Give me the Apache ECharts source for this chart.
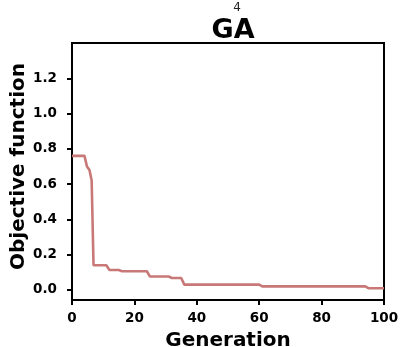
<!DOCTYPE html>
<html><head><meta charset="utf-8">
<script src="https://cdn.jsdelivr.net/npm/echarts@6/dist/echarts.min.js"></script>
<style>html,body{margin:0;padding:0;background:#fff}#c{width:402px;height:347px}</style>
</head><body><div id="c"></div>
<script>
var titleText = 'GA';
var superText = '4';
var xName = 'Generation';
var yName = 'Objective function';
var xTicks = [0, 20, 40, 60, 80, 100];
var yTicks = [0, 0.2, 0.4, 0.6, 0.8, 1.0, 1.2];
var generations = [0, 4, 4.8, 5.6, 6.3, 6.9, 11, 12, 15, 16, 24, 25, 31, 32, 35, 36, 60, 61, 94, 95, 100];
var objective   = [0.76, 0.76, 0.70, 0.68, 0.62, 0.14, 0.14, 0.113, 0.113, 0.106, 0.106, 0.076, 0.076, 0.068, 0.068, 0.03, 0.03, 0.02, 0.02, 0.01, 0.01];

var data = generations.map(function (g, i) { return [g, objective[i]]; });
var font = 'DejaVu Sans';
var chart = echarts.init(document.getElementById('c'));
chart.setOption({
  animation: false,
  backgroundColor: '#fff',
  title: [
    { text: titleText, left: 228, top: 12, textAlign: 'center',
      textStyle: { fontFamily: font, fontWeight: 'bold', fontSize: 27, color: '#000' } },
    { text: superText, left: 232, top: -3, textAlign: 'center',
      textStyle: { fontFamily: font, fontWeight: 'normal', fontSize: 12, color: '#222' } }
  ],
  grid: { left: 72, right: 18, top: 43, bottom: 47, containLabel: false, outerBoundsMode: 'none',
    show: true, borderColor: '#000', borderWidth: 2, backgroundColor: 'transparent' },
  xAxis: {
    type: 'value', min: 0, max: 100, interval: 20,
    name: xName, nameLocation: 'middle', nameGap: 31, nameMoveOverlap: false,
    nameTextStyle: { fontFamily: font, fontWeight: 'bold', fontSize: 20, color: '#000' },
    axisLine: { show: true, onZero: false, lineStyle: { color: '#000', width: 2 } },
    axisTick: { show: true, length: 5, lineStyle: { color: '#000', width: 2 }, customValues: xTicks },
    axisLabel: { fontFamily: font, fontWeight: 'bold', fontSize: 13.5, color: '#000', margin: 11, customValues: xTicks },
    splitLine: { show: false }
  },
  yAxis: {
    type: 'value', min: -0.057, max: 1.4,
    name: yName, nameLocation: 'middle', nameGap: 43, nameRotate: 90, nameMoveOverlap: false,
    nameTextStyle: { fontFamily: font, fontWeight: 'bold', fontSize: 20, color: '#000', padding: [0, 0, 0, 10] },
    axisLine: { show: true, onZero: false, lineStyle: { color: '#000', width: 2 } },
    axisTick: { show: true, length: 5, lineStyle: { color: '#000', width: 2 }, customValues: yTicks },
    axisLabel: { fontFamily: font, fontWeight: 'bold', fontSize: 13.5, color: '#000', margin: 15,
      customValues: yTicks, formatter: function (v) { return v.toFixed(1); } },
    splitLine: { show: false }
  },
  series: [{
    type: 'line', data: data, showSymbol: false, symbol: 'none',
    lineStyle: { color: '#c97878', width: 2.6 }
  }]
});
</script></body></html>
